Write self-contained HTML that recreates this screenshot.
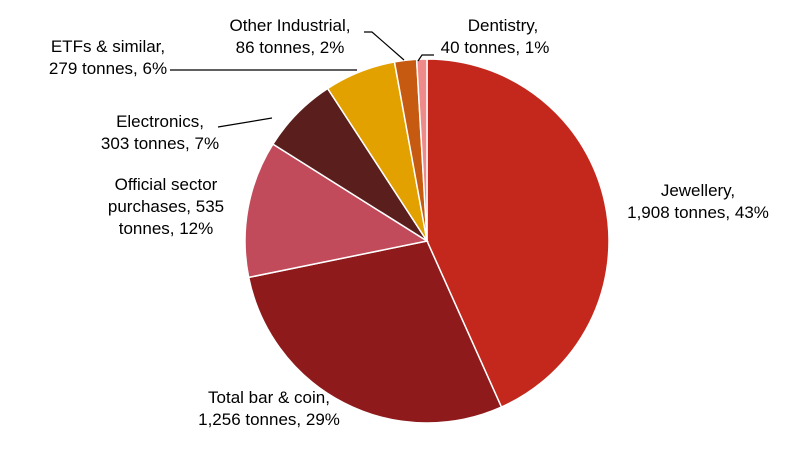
<!DOCTYPE html>
<html><head><meta charset="utf-8"><style>
body{margin:0;background:#fff;}
svg text{font-family:"Liberation Sans",Arial,sans-serif;font-size:17px;fill:#000;text-anchor:middle;}
</style></head><body>
<svg width="800" height="447" id="chart">
<g id="slices"></g>
<g>
<text x="698" y="196">Jewellery,</text>
<text x="698" y="218">1,908 tonnes, 43%</text>
<text x="269" y="403">Total bar &amp; coin,</text>
<text x="269" y="425">1,256 tonnes, 29%</text>
<text x="166" y="190">Official sector</text>
<text x="166" y="212">purchases,  535</text>
<text x="166" y="234">tonnes, 12%</text>
<text x="160" y="127">Electronics,</text>
<text x="160" y="149">303 tonnes, 7%</text>
<text x="108" y="52">ETFs &amp; similar,</text>
<text x="108" y="74">279 tonnes, 6%</text>
<text x="290" y="31">Other Industrial,</text>
<text x="290" y="53">86 tonnes, 2%</text>
<text x="503" y="31">Dentistry,</text>
<text x="495" y="53">40 tonnes, 1%</text>
</g>
<g stroke="#000" stroke-width="1.2" fill="none">
<polyline points="170,70 357,70"/>
<polyline points="218,127 272,118"/>
<polyline points="364,32 372,32 404,60"/>
<polyline points="418,61 422,55 434,55"/>
</g>
</svg>
<script>
const categories=["Jewellery","Total bar & coin","Official sector purchases","Electronics","ETFs & similar","Other Industrial","Dentistry"];
const values=[1908,1256,535,303,279,86,40];
const colors=["#C4281C","#8E1A1C","#C24B5B","#5A1E1C","#E3A100","#C65A10","#EE8A8A"];
const cx=427,cy=241,r=182;
const g=document.getElementById('slices');
const total=values.reduce((a,b)=>a+b,0);
let a0=0;
values.forEach((v,i)=>{
  const a1=a0+v/total*2*Math.PI;
  const x0=cx+r*Math.sin(a0),y0=cy-r*Math.cos(a0),x1=cx+r*Math.sin(a1),y1=cy-r*Math.cos(a1);
  const p=document.createElementNS('http://www.w3.org/2000/svg','path');
  p.setAttribute('d',`M${cx},${cy}L${x0},${y0}A${r},${r} 0 ${(a1-a0)>Math.PI?1:0} 1 ${x1},${y1}Z`);
  p.setAttribute('fill',colors[i]);
  p.setAttribute('stroke','#fff');
  p.setAttribute('stroke-width','1.5');
  
  
  g.appendChild(p);
  a0=a1;
});
</script>
</body></html>
